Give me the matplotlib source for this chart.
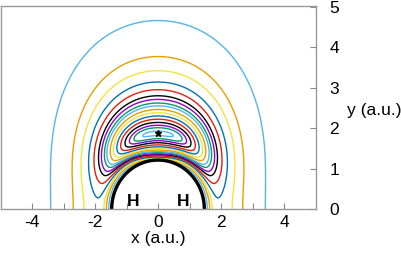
import numpy as np
import matplotlib
matplotlib.use("Agg")
import matplotlib.pyplot as plt

plt.rcParams['font.family'] = ['Liberation Sans', 'DejaVu Sans']

# ---- data ----
# height (a.u.) where each contour crosses x = 0 above the star (outermost first)
level_top_y = [4.66, 3.77, 3.42, 3.14, 2.95, 2.80, 2.71, 2.62, 2.55, 2.46,
               2.38, 2.30, 2.22, 2.14, 2.07, 2.01, 1.925]
palette = ['#56B4E9', '#E69F00', '#F0E442', '#0072B2', '#E51E10', '#000000',
           '#9400D3', '#009E73']
wall_a, wall_b = 1.47, 1.21          # repulsive wall (x half-width, top)
star_x, star_y = 0.0, 1.87           # minimum (T-shape)
axis_min_x = 1.93                    # minimum along the molecular axis
depth_axis, depth_top = 0.56, 1.0    # relative well depth
a_out = [1.67, 1.0]                  # outer fall-off (axis, perpendicular)
a_in = [2.2, 0.95]                   # inner steepness (axis, perpendicular)
wall_height, wall_width = 0.35, 0.04
h_x = [-0.79, 0.79]
h_y = [0.18, 0.18]
x_ticks = [-4, -3, -2, -1, 0, 1, 2, 3, 4]
x_labels = ['-4', '', '-2', '', '0', '', '2', '', '4']
y_ticks = [0, 1, 2, 3, 4, 5]


def field(X, Y):
    ax_ = np.abs(X)
    r = np.hypot(ax_, Y)
    th = np.arctan2(Y, ax_)
    s2 = np.sin(th) ** 2
    c2 = np.cos(th) ** 2
    w4 = 1.0 - c2 ** 2
    wm = 0.5 * (s2 + w4)
    Rw = 1.0 / np.sqrt(c2 / wall_a ** 2 + s2 / wall_b ** 2)
    u = r / Rw
    um0 = axis_min_x / wall_a
    um90 = star_y / wall_b
    um = um0 + (um90 - um0) * s2
    ao = a_out[0] + (a_out[1] - a_out[0]) * wm
    ai = a_in[0] + (a_in[1] - a_in[0]) * s2
    D = depth_axis + (depth_top - depth_axis) * w4
    d = u - um
    a = np.where(d > 0, ao, ai)
    z = np.exp(-a * d)
    V = D * (z * z - 2 * z) + wall_height * np.exp(-(u - 1) / wall_width)
    return np.where(u < 1, np.nan, V), u


fig = plt.figure(figsize=(4.01, 2.54), dpi=100)
ax = fig.add_axes([0.5 / 401, 45 / 254, 315 / 401, 203 / 254])

xs = np.linspace(-5, 5, 1201)
ys = np.linspace(0, 5.02, 800)
X, Y = np.meshgrid(xs, ys)
V, U = field(X, Y)

lv = [float(field(np.array([0.0]), np.array([yt]))[0][0]) for yt in level_top_y]
for i, l in enumerate(lv):
    ax.contour(X, Y, V, levels=[l], colors=[palette[i % len(palette)]],
               linewidths=1.0, linestyles='solid')

ax.contour(X, Y, U, levels=[1.0], colors=['black'], linewidths=2.4,
           linestyles='solid')
ax.plot([star_x], [star_y], marker='*', color='black', markersize=5, ls='none')
for hx, hy in zip(h_x, h_y):
    ax.text(hx, hy, 'H', ha='center', va='center', fontsize=12.5,
            fontweight='bold')

ax.set_xlim(-5, 5)
ax.set_ylim(0, 5.02)
ax.set_xticks(x_ticks)
ax.set_xticklabels(x_labels)
ax.set_yticks(y_ticks)
ax.yaxis.tick_right()
ax.tick_params(axis='both', direction='in', length=4, color='#888888',
               width=0.8, labelsize=12.5)
ax.tick_params(axis='x', pad=4)
ax.tick_params(axis='y', pad=10)
for s in ax.spines.values():
    s.set_color('#999999')
    s.set_linewidth(1.0)

fig.text(158 / 401, 1 - 239 / 254, 'x (a.u.)', ha='center', va='center',
         fontsize=12.5)
fig.text(347 / 401, 1 - 110 / 254, 'y (a.u.)', ha='left', va='center',
         fontsize=12.5)

fig.savefig('out.png', dpi=100)
